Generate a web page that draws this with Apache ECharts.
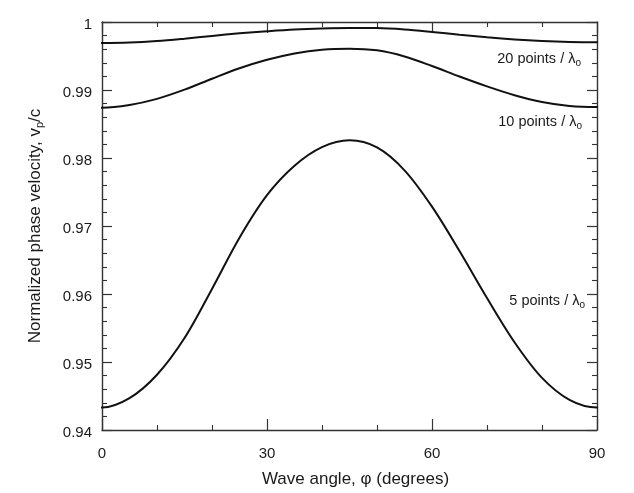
<!DOCTYPE html>
<html>
<head>
<meta charset="utf-8">
<script src="https://cdn.jsdelivr.net/npm/echarts@6/dist/echarts.min.js"></script>
<style>
  html, body { margin: 0; padding: 0; background: #ffffff; }
  #chart { width: 634px; height: 493px; }
</style>
</head>
<body>
<div id="chart"></div>
<script>
// Wave propagation angle, degrees (one step past each end so the
// smoothed curves leave 0° and 90° level; the grid clips them)
const angles = [-5, 0, 5, 10, 15, 20, 25, 30, 35, 40, 45, 50, 55, 60, 65, 70, 75, 80, 85, 90, 95];

// Normalized numerical phase velocity v_p/c for three grid resolutions
const vp5pts = [0.94468, 0.94330, 0.94468, 0.94812, 0.95352, 0.96075, 0.96828, 0.97453, 0.97886, 0.98160, 0.98260,
                0.98155, 0.97819, 0.97285, 0.96632, 0.95940, 0.95290, 0.94766, 0.94443, 0.94330, 0.94443];
const vp10pts = [0.98780, 0.98740, 0.98780, 0.98870, 0.99005, 0.99165, 0.99320, 0.99445, 0.99538, 0.99593, 0.99608,
                 0.99583, 0.99493, 0.99353, 0.99198, 0.99053, 0.98923, 0.98823, 0.98765, 0.98750, 0.98765];
const vp20pts = [0.99698, 0.99692, 0.99698, 0.99720, 0.99755, 0.99795, 0.99833, 0.99864, 0.99890, 0.99905, 0.99912,
                 0.99910, 0.99890, 0.99854, 0.99813, 0.99774, 0.99742, 0.99719, 0.99705, 0.99701, 0.99705];

const seriesNames = ['20 points', '10 points', '5 points'];
const xTitle = 'Wave angle, \u03c6 (degrees)';
const yTitle = 'Normalized phase velocity, v{sub|p}/c';

const FONT = 'Liberation Sans, Arial, Helvetica, sans-serif';
const INK = '#1a1a1a';
const FRAME = '#333333';

function pairs(ys) { return angles.map((a, i) => [a, ys[i]]); }

const chart = echarts.init(document.getElementById('chart'), null, { renderer: 'canvas' });

function xAxisCfg(pos, labels) {
  return {
    type: 'value', position: pos, min: 0, max: 90, interval: 30,
    axisLine: { show: true, onZero: false, lineStyle: { color: FRAME, width: 1.4 } },
    axisTick: { show: true, inside: true, length: 11, lineStyle: { color: FRAME, width: 1.2 } },
    minorTick: { show: true, splitNumber: 3, length: 5, lineStyle: { color: FRAME, width: 1.1 } },
    splitLine: { show: false }, minorSplitLine: { show: false },
    axisLabel: { show: labels, inside: false, margin: 16, color: INK, fontFamily: FONT, fontSize: 15 },
    name: labels ? xTitle : '', nameLocation: 'middle', nameGap: 41,
    nameTextStyle: { color: INK, fontFamily: FONT, fontSize: 17, padding: [0, 0, 0, 12] }
  };
}

function yAxisCfg(pos, labels) {
  return {
    type: 'value', position: pos, min: 0.94, max: 1, interval: 0.01,
    axisLine: { show: true, onZero: false, lineStyle: { color: FRAME, width: 1.4 } },
    axisTick: { show: true, inside: true, length: 10, lineStyle: { color: FRAME, width: 1.2 } },
    minorTick: { show: true, splitNumber: 5, length: 5, lineStyle: { color: FRAME, width: 1.1 } },
    splitLine: { show: false }, minorSplitLine: { show: false },
    axisLabel: {
      show: labels, inside: false, margin: 10, color: INK, fontFamily: FONT, fontSize: 15,
      verticalAlign: 'top', lineHeight: 6,
      formatter: v => String(Math.round(v * 100) / 100)
    },
    name: labels ? yTitle : '',
    nameLocation: 'middle', nameGap: 57,
    nameTextStyle: {
      color: INK, fontFamily: FONT, fontSize: 17,
      rich: { sub: { fontSize: 11, color: INK, fontFamily: FONT, padding: [9, 0, 0, 0], verticalAlign: 'bottom' } }
    }
  };
}

function curve(name, ys) {
  return {
    name: name, type: 'line', data: pairs(ys), smooth: 0.33, clip: true,
    symbol: 'none', lineStyle: { color: '#111', width: 2 },
    xAxisIndex: 0, yAxisIndex: 0, z: 3
  };
}

// Curve captions: "N points / λo" with subscript o
function caption(text, x, y) {
  return {
    type: 'text', right: 634 - x, top: y,
    style: {
      text: text + ' / \u03bb{sub|o}',
      fill: INK, font: '14.5px ' + FONT,
      rich: { sub: { fontSize: 10, fontFamily: FONT, fill: INK, padding: [10, 0, 0, 0], verticalAlign: 'bottom' } }
    }
  };
}

chart.setOption({
  animation: false,
  backgroundColor: '#ffffff',
  grid: { left: 102, right: 37, top: 22, bottom: 61, containLabel: false },
  xAxis: [xAxisCfg('bottom', true), xAxisCfg('top', false)],
  yAxis: [yAxisCfg('left', true), yAxisCfg('right', false)],
  series: [
    curve(seriesNames[0], vp20pts),
    curve(seriesNames[1], vp10pts),
    curve(seriesNames[2], vp5pts)
  ],
  graphic: [
    caption(seriesNames[0], 581, 51),
    caption(seriesNames[1], 582, 114),
    caption(seriesNames[2], 585, 293)
  ]
});
</script>
</body>
</html>
